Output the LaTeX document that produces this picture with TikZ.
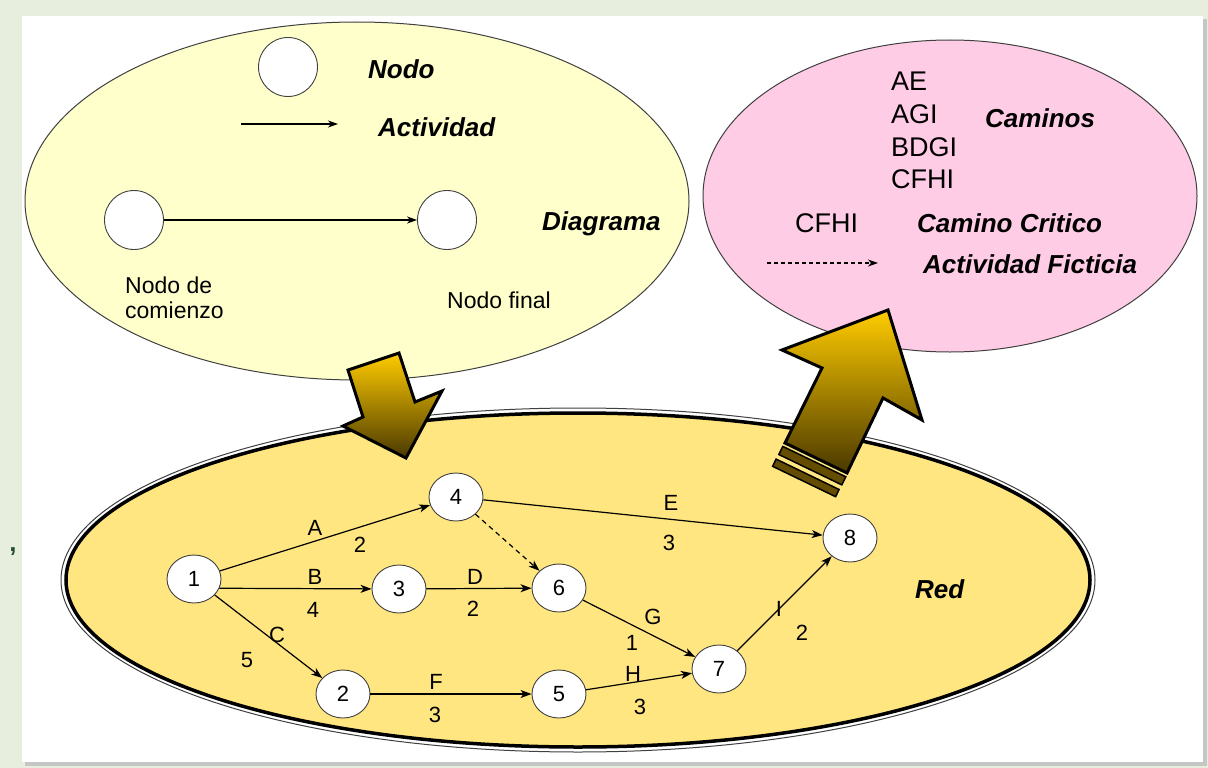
\documentclass[tikz,border=0pt]{standalone}
\usepackage{fontspec}
\setmainfont{Liberation Sans}
\usetikzlibrary{shapes.geometric,arrows.meta}
\definecolor{bgc}{RGB}{232,238,221}
\definecolor{legy}{RGB}{255,255,204}
\definecolor{pinkc}{RGB}{255,204,230}
\definecolor{redy}{RGB}{255,230,128}
\definecolor{goldc}{RGB}{255,204,0}
\definecolor{darkc}{RGB}{74,56,0}
\definecolor{barc}{RGB}{100,76,0}
\definecolor{edgec}{RGB}{64,64,64}
\definecolor{commac}{RGB}{40,80,55}
\begin{document}
\begin{tikzpicture}[x=1pt,y=-1pt,
  legcirc/.style={circle,draw=edgec,line width=0.9pt,fill=white,minimum size=59pt,inner sep=0pt},
  netnode/.style={ellipse,draw=edgec,line width=0.9pt,fill=white,minimum width=54pt,minimum height=48pt,inner sep=0pt,font=\fontsize{22}{26}\selectfont},
  netlbl/.style={inner sep=0pt,font=\fontsize{22}{26}\selectfont},
  legtxt/.style={inner sep=0pt,anchor=base west,font=\fontsize{23}{27}\selectfont},
  bitxt/.style={inner sep=0pt,anchor=base west,font=\fontsize{26}{30}\selectfont\bfseries\itshape},
  pathtxt/.style={inner sep=0pt,anchor=base west,font=\fontsize{27}{31}\selectfont},
  act/.style={line width=1.2pt,-{Stealth[length=11pt,width=8pt,inset=3pt]}},
  legact/.style={line width=1.1pt,-{Stealth[length=10pt,width=7pt,inset=3pt]}},
  fict/.style={act,dash pattern=on 5pt off 4pt},
  blockarrow/.style={draw=black,line width=3pt,line join=miter,top color=goldc,bottom color=darkc},
  barstyle/.style={draw=black,line width=1.5pt,fill=barc}
]
\useasboundingbox (0,0) rectangle (1208,768);
\fill[bgc] (0,0) rectangle (1208,768);
\node[inner sep=0pt,text=commac,font=\fontsize{26}{30}\selectfont\bfseries] (comma) at (13,552) {,};
% panel with shadow
\fill[gray!45] (25,19) rectangle (1207,766);
\fill[white] (22,16) rectangle (1203,762);

% legend ellipse
\draw[draw=edgec,line width=1pt,fill=legy] (357,201) ellipse [x radius=332pt,y radius=179pt];
% pink ellipse
\draw[draw=edgec,line width=1pt,fill=pinkc] (950,196) ellipse [x radius=247pt,y radius=156pt];
% red ellipse
\draw[draw=black!75,line width=1pt] (578,580) ellipse [x radius=517pt,y radius=172pt];
\draw[draw=black,line width=3.5pt,fill=redy] (578,580) ellipse [x radius=512pt,y radius=167pt];

% legend content
\node[legcirc] (lnode) at (288,67) {};
\node[bitxt] (tnodo) at (368,78) {Nodo};
\coordinate (la1) at (241,124);
\coordinate (la2) at (338,124);
\draw[legact] (la1) -- (la2);
\node[bitxt] (tact) at (378,136) {Actividad};
\node[legcirc] (dstart) at (134,220) {};
\node[legcirc] (dend) at (447,220) {};
\draw[legact] (dstart) -- (dend);
\node[bitxt] (tdiag) at (542,230) {Diagrama};
\node[legtxt] (tstart1) at (125,293) {Nodo de};
\node[legtxt] (tstart2) at (125,318) {comienzo};
\node[legtxt] (tfinal) at (447,308) {Nodo final};

% pink content
\node[pathtxt] (p1) at (891,91) {AE};
\node[pathtxt] (p2) at (891,124) {AGI};
\node[pathtxt] (p3) at (891,156) {BDGI};
\node[pathtxt] (p4) at (891,188) {CFHI};
\node[bitxt] (tcam) at (985,127) {Caminos};
\node[pathtxt] (pcrit) at (795,232) {CFHI};
\node[bitxt] (tcrit) at (917,232) {Camino Critico};
\coordinate (fa1) at (767,263);
\coordinate (fa2) at (878,263);
\draw[legact,dash pattern=on 4pt off 3pt] (fa1) -- (fa2);
\node[bitxt] (tfict) at (923,273) {Actividad Ficticia};

% network nodes
\node[netnode] (n1) at (194,579) {1};
\node[netnode] (n2) at (343,694) {2};
\node[netnode] (n3) at (399,589) {3};
\node[netnode] (n4) at (456,497) {4};
\node[netnode] (n5) at (559,694) {5};
\node[netnode] (n6) at (559,588) {6};
\node[netnode] (n7) at (719,669) {7};
\node[netnode] (n8) at (850,538) {8};

% activities
\draw[act] (n1) -- (n4);
\draw[act] (n1.-20) -- (n3);
\draw[act] (n1) -- (n2);
\draw[act] (n3) -- (n6);
\draw[act] (n4) -- (n8);
\draw[fict] (n4) -- (n6);
\draw[act] (n2) -- (n5);
\draw[act] (n6) -- (n7);
\draw[act] (n5) -- (n7);
\draw[act] (n7) -- (n8);

% activity labels
\node[netlbl] (lA) at (315,528) {A};
\node[netlbl] (dA) at (360,545) {2};
\node[netlbl] (lB) at (315,577) {B};
\node[netlbl] (dB) at (313,610) {4};
\node[netlbl] (lC) at (277,635) {C};
\node[netlbl] (dC) at (247,660) {5};
\node[netlbl] (lD) at (475,577) {D};
\node[netlbl] (dD) at (473,609) {2};
\node[netlbl] (lE) at (671,503) {E};
\node[netlbl] (dE) at (669,543) {3};
\node[netlbl] (lF) at (436,682) {F};
\node[netlbl] (dF) at (435,715) {3};
\node[netlbl] (lG) at (653,617) {G};
\node[netlbl] (dG) at (632,643) {1};
\node[netlbl] (lH) at (633,674) {H};
\node[netlbl] (dH) at (640,707) {3};
\node[netlbl] (lI) at (779,609) {I};
\node[netlbl] (dI) at (802,633) {2};
\node[bitxt] (tred) at (915,598) {Red};

% down block arrow
\path[blockarrow] (348,370) -- (399,353) -- (415,402) -- (442,391) -- (406,458) -- (343,426) -- (363,417) -- cycle;
% up block arrow
\path[blockarrow] (888,310) -- (922,420) -- (883,398) -- (847,473) -- (785,443) -- (822,368) -- (782,350) -- cycle;
\path[barstyle] (782.8,446.4) -- (845.8,476.8) -- (841.8,484.9) -- (778.8,454.5) -- cycle;
\path[barstyle] (776.1,459.1) -- (839.1,489.5) -- (835.6,496.7) -- (772.6,466.3) -- cycle;
\end{tikzpicture}
\end{document}
